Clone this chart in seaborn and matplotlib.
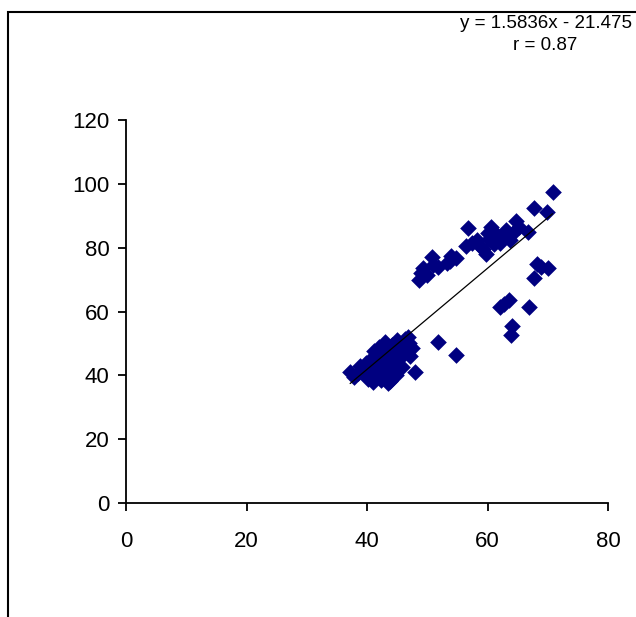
import matplotlib
matplotlib.use("Agg")
import matplotlib.pyplot as plt
from matplotlib.patches import Rectangle
import numpy as np
import pandas as pd
import seaborn as sns

# scatter values
x_vals = [37.2, 37.8, 38.5, 38.9, 39.5, 39.8, 40.2, 40.5, 40.8, 41.0,
          41.2, 41.5, 41.8, 42.0, 42.3, 42.5, 42.8, 43.0, 43.2, 43.5,
          43.8, 44.0, 44.2, 44.5, 44.8, 45.0, 45.2, 45.5, 45.8, 46.0,
          46.3, 46.5, 46.8, 47.0, 47.5, 47.2, 48.0, 42.0, 40.0, 43.5,
          51.8, 54.8,
          62.0, 62.8, 63.5, 66.9, 64.0, 63.9,
          67.8, 68.2, 68.8, 70.0,
          48.6, 49.0, 49.3, 50.0, 50.8, 51.0, 51.8, 53.2, 54.0, 54.8, 53.8,
          56.8, 56.5, 57.5, 58.2, 58.8, 59.3, 59.8, 60.2, 60.6, 61.0,
          61.5, 62.0, 62.5, 63.1, 63.7, 64.3, 64.8, 65.3, 66.7, 67.8,
          69.8, 70.8, 60.0]
y_vals = [41.0, 39.5, 40.8, 42.8, 41.5, 44.0, 39.0, 42.5, 45.5, 37.8,
          47.5, 40.5, 43.5, 49.0, 38.5, 46.0, 44.5, 50.5, 41.5, 47.8,
          38.2, 45.0, 49.5, 43.0, 40.0, 51.0, 47.0, 45.5, 42.5, 49.5,
          51.5, 47.8, 52.0, 50.0, 48.5, 46.0, 41.0, 40.0, 43.5, 37.5,
          50.5, 46.3,
          61.5, 62.5, 63.5, 61.5, 55.5, 52.5,
          70.5, 74.8, 73.8, 73.5,
          69.8, 72.2, 73.5, 71.5, 77.0, 74.5, 74.0, 75.2, 77.5, 76.8, 75.8,
          86.2, 80.5, 81.5, 82.5, 80.5, 79.5, 78.0, 82.8, 86.5, 81.0,
          84.0, 81.5, 83.0, 85.5, 82.5, 84.5, 88.5, 86.5, 85.0, 92.3,
          91.2, 97.3, 84.5]

slope = 1.5836
intercept = -21.475
r_value = 0.87

x_ticks = [0, 20, 40, 60, 80]
y_ticks = [0, 20, 40, 60, 80, 100, 120]

df = pd.DataFrame({"x": x_vals, "y": y_vals})

sns.set_style("white")
plt.rcParams["font.family"] = ["Liberation Sans", "DejaVu Sans"]

fig = plt.figure(figsize=(6.36, 6.17), dpi=100)
ax = fig.add_axes([126 / 636, 1 - 503 / 617, (608 - 126) / 636, (503 - 120) / 617])

sns.scatterplot(data=df, x="x", y="y", marker="D", s=72, color="#000080",
                edgecolor="#000080", linewidth=0, ax=ax, zorder=3)

# trendline over the data range
line_x = np.array([min(x_vals), max(x_vals)])
sns.lineplot(x=line_x, y=slope * line_x + intercept, color="black",
             linewidth=0.9, ax=ax, zorder=4)

ax.set_xlim(0, 80)
ax.set_ylim(0, 120)
ax.set_xticks(x_ticks)
ax.set_yticks(y_ticks)
ax.set_xlabel("")
ax.set_ylabel("")
sns.despine(ax=ax)
for side in ["left", "bottom"]:
    ax.spines[side].set_linewidth(1.3)
    ax.spines[side].set_color("black")
ax.tick_params(axis="both", direction="out", length=6, width=1.3,
               labelsize=16, colors="black", bottom=True, left=True)
ax.tick_params(axis="x", pad=14)
ax.tick_params(axis="y", pad=6)

fig.text(546 / 636, 1 - 23 / 617, f"y = {slope}x - {abs(intercept)}",
         ha="center", va="center", fontsize=13.5, color="black")
fig.text(545 / 636, 1 - 46 / 617, f"r = {r_value}",
         ha="center", va="center", fontsize=13.5, color="black")

# outer chart frame (runs off the right and bottom edges)
fig.add_artist(Rectangle((8 / 636, -0.1), 1.2, 1 - 12 / 617 + 0.1,
                         transform=fig.transFigure, fill=False,
                         edgecolor="black", linewidth=1.5))

fig.savefig("out.png", dpi=100)
